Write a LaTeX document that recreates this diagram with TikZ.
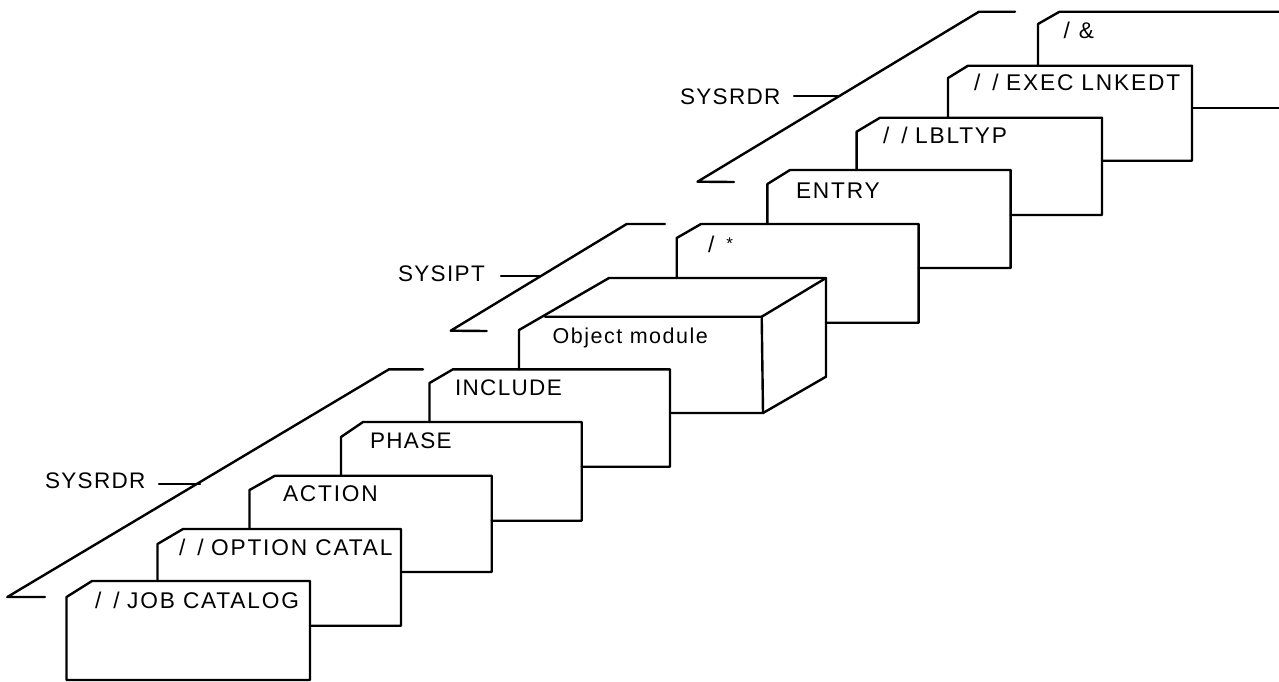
\documentclass[tikz,border=0pt]{standalone}
\usepackage{fontspec}
\setmainfont[LetterSpace=8]{Liberation Sans}
\newfontfamily\objfont[LetterSpace=7]{Liberation Sans}
\newfontfamily\sysfont[LetterSpace=6]{Liberation Sans}
\tikzset{
  card/.style={draw=black,line width=2.4pt,line join=round,line cap=round},
  lab/.style={anchor=base west,inner sep=0pt,outer sep=0pt,font=\fontsize{22.7}{24}\selectfont,text=black},
  syslab/.style={lab,font=\sysfont\fontsize{22.5}{24}\selectfont},
}
\newcommand{\slashes}{/\kern12pt/\kern7.5pt}
\begin{document}
\begin{tikzpicture}[x=1pt,y=-1pt]
\useasboundingbox (0,0) rectangle (1279,681);
% cards, front to back
\draw[card] (66.5,680) -- (66.5,597) -- (92,581) -- (310,581) -- (310,680) -- cycle;
\draw[card] (310,625.7) -- (401,625.7) -- (401,529) -- (183,529) -- (157.5,544) -- (157.5,581);
\draw[card] (401,572) -- (491.7,572) -- (491.7,475.7) -- (275,475.7) -- (249.5,490) -- (249.5,529);
\draw[card] (491.7,520.7) -- (581.7,520.7) -- (581.7,422) -- (363,422) -- (341,437) -- (341,475.7);
\draw[card] (581.7,466.7) -- (670,466.7) -- (670,369.3) -- (453,369.3) -- (429.5,383) -- (429.5,422);
% object module box
\draw[card] (670,413) -- (763,413) -- (826,376.7) -- (826,278) -- (609,278) -- (519,330) -- (519,369.3);
\draw[card] (545,316.7) -- (761.7,316.7) -- (763,413);
\draw[card] (761.7,316.7) -- (826,278);
% upper cards
\draw[card] (826,322.7) -- (918.6,322.7) -- (918.6,224) -- (701,224) -- (676.7,238) -- (676.7,278);
\draw[card] (918.6,268) -- (1010.6,268) -- (1010.6,170) -- (790,170) -- (767.4,184) -- (767.4,224);
\draw[card] (1010.6,215) -- (1102,215) -- (1102,117.7) -- (880,117.7) -- (856.6,131.7) -- (856.6,170);
\draw[card] (1102,160.7) -- (1192,160.7) -- (1192,65.7) -- (968,65.7) -- (948,78) -- (948,117.7);
\draw[card] (1192,108) -- (1279,108);
\draw[card] (1279,11.7) -- (1059.5,11.7) -- (1038,24) -- (1038,65.7);
% brackets
\draw[card] (423,369.3) -- (389,369.3) -- (7.3,597) -- (45,597);
\coordinate (t1a) at (159,484); \coordinate (t1b) at (200,484);
\draw[card] (t1a) -- (t1b);
\draw[card] (665,224) -- (626.7,224) -- (450.7,330.7) -- (486.7,331);
\coordinate (t2a) at (501,275.7); \coordinate (t2b) at (540.7,275.7);
\draw[card] (t2a) -- (t2b);
\draw[card] (1015,11.7) -- (979,11.7) -- (697.5,181.7) -- (734,182);
\coordinate (t3a) at (794,96); \coordinate (t3b) at (837.7,96);
\draw[card] (t3a) -- (t3b);
% labels
\node[syslab] (sys1) at (45,488) {SYSRDR};
\node[syslab] (sys2) at (398,281.7) {SYSIPT};
\node[syslab] (sys3) at (680,104) {SYSRDR};
\node[lab] (job) at (95,608) {\slashes JOB CATALOG};
\node[lab] (opt) at (179,555.7) {\slashes OPTION CATAL};
\node[lab] (act) at (283,501.7) {ACTION};
\node[syslab] (pha) at (370,448) {PHASE};
\node[lab,font=\sysfont\fontsize{22.5}{24}\selectfont] (inc) at (455,395) {INCLUDE};
\node[lab,font=\objfont\fontsize{21.5}{24}\selectfont] (obj) at (552.7,343) {Object module};
\node[lab] (slast) at (708,252) {/\kern12pt\raisebox{3pt}{\fontsize{17}{20}\selectfont *}};
\node[lab] (ent) at (796,198) {ENTRY};
\node[lab] (lbl) at (883,143) {\slashes LBLTYP};
\node[lab] (exe) at (974,90.7) {\slashes EXEC LNKEDT};
\node[lab] (amp) at (1063.5,38) {/\kern9pt\&};
\end{tikzpicture}
\end{document}
